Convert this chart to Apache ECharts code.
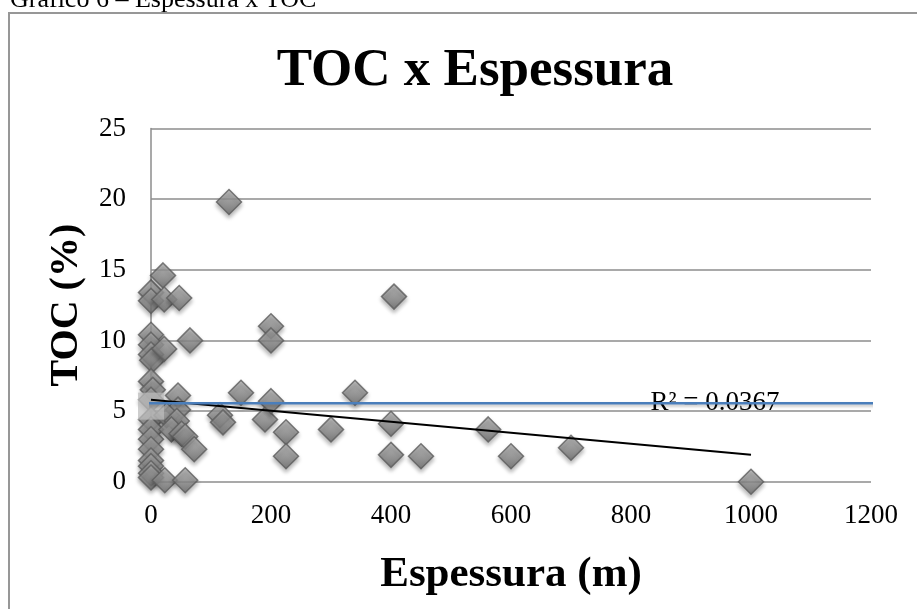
<!DOCTYPE html>
<html>
<head>
<meta charset="utf-8">
<title>TOC x Espessura</title>
<script src="https://cdn.jsdelivr.net/npm/echarts@6/dist/echarts.min.js"></script>
<style>
  html, body { margin: 0; padding: 0; background: #fff; }
  #chart { width: 917px; height: 609px; }
</style>
</head>
<body>
<div id="chart"></div>
<script>
// espessura (m) de cada amostra
var espessura = [
  0, 0, 0, 0, 0, 2, 0, 3, 0, 0, 0, 0, 0, 0, 0, 0, 0,
  20, 22, 47, 22, 65, 45, 45, 26, 43, 34, 51, 57, 72, 23, 57,
  130, 150, 115, 120, 190, 200, 200, 200, 225, 225, 300, 340,
  400, 400, 405, 450, 562, 600, 700, 1000
];
// TOC (%) de cada amostra
var toc = [
  13.4, 12.8, 10.4, 9.7, 9.0, 8.6, 7.1, 6.5, 5.8, 4.4, 3.7, 3.0, 2.3, 1.5, 1.1, 0.6, 0.3,
  14.6, 12.9, 13.0, 9.4, 10.0, 6.1, 5.1, 4.7, 4.3, 3.7, 3.4, 3.2, 2.3, 0.1, 0.1,
  19.8, 6.3, 4.7, 4.2, 4.4, 11.0, 10.0, 5.7, 3.5, 1.8, 3.7, 6.3,
  4.1, 1.9, 13.1, 1.8, 3.7, 1.8, 2.4, 0
];
// linha de tendencia
var trendX = [0, 1000];
var trendY = [5.8, 1.9];
var r2Text = 'R² = 0.0367';
var r2Pos = [940, 5.6];
// linha azul horizontal
var blueX = [-73, 1237];
var blueY = [5.56, 5.56];
// caixa cinza perto da origem
var boxPos = [0, 5.35];

var xTicks = { min: 0, max: 1200, interval: 200 };
var yTicks = { min: 0, max: 25, interval: 5 };

function pairs(xs, ys) {
  var out = [];
  for (var i = 0; i < xs.length; i++) {
    out.push([xs[i], ys[i]]);
  }
  return out;
}

var serif = 'Liberation Serif';
var chart = echarts.init(document.getElementById('chart'));
chart.setOption({
  animation: false,
  title: {
    text: 'TOC x Espessura',
    left: 470,
    top: 40,
    textAlign: 'center',
    textStyle: {
      fontFamily: serif,
      fontWeight: 'bold',
      fontSize: 53,
      lineHeight: 53,
      color: '#000'
    }
  },
  graphic: [
    {
      type: 'rect',
      shape: { x: 9, y: 13, width: 1000, height: 1000 },
      style: { fill: 'none', stroke: '#979797', lineWidth: 2 },
      silent: true
    },
    {
      type: 'text',
      x: 10,
      y: 0,
      style: {
        text: 'Gráfico 6 – Espessura x TOC',
        font: '26px "Liberation Serif"',
        fill: '#000',
        verticalAlign: 'middle'
      }
    }
  ],
  grid: {
    left: 151,
    right: 46,
    top: 128.5,
    bottom: 127.3
  },
  xAxis: {
    type: 'value',
    min: xTicks.min,
    max: xTicks.max,
    interval: xTicks.interval,
    name: 'Espessura (m)',
    nameLocation: 'middle',
    nameGap: 72,
    nameTextStyle: {
      fontFamily: serif,
      fontWeight: 'bold',
      fontSize: 43,
      lineHeight: 43,
      color: '#000'
    },
    axisLine: { show: false },
    axisTick: { show: false },
    splitLine: { show: false },
    axisLabel: {
      margin: 21,
      fontFamily: serif,
      fontSize: 27,
      lineHeight: 27,
      color: '#000',
      formatter: function (v) { return String(v); }
    }
  },
  yAxis: {
    type: 'value',
    min: yTicks.min,
    max: yTicks.max,
    interval: yTicks.interval,
    name: 'TOC (%)',
    nameLocation: 'middle',
    nameGap: 64,
    nameTextStyle: {
      fontFamily: serif,
      fontWeight: 'bold',
      fontSize: 40,
      lineHeight: 40,
      color: '#000'
    },
    axisLine: { show: true, lineStyle: { color: '#8c8c8c', width: 1.5 } },
    axisTick: { show: false },
    splitLine: { show: true, lineStyle: { color: '#8c8c8c', width: 1.5 } },
    axisLabel: {
      margin: 25,
      fontFamily: serif,
      fontSize: 27,
      color: '#000',
      formatter: function (v) { return String(v); }
    }
  },
  series: [
    {
      name: 'TOC',
      type: 'scatter',
      symbol: 'diamond',
      symbolSize: 25,
      clip: false,
      data: pairs(espessura, toc),
      itemStyle: {
        color: new echarts.graphic.LinearGradient(0, 0, 0, 1, [
          { offset: 0, color: '#b8b8b8' },
          { offset: 1, color: '#696969' }
        ]),
        borderColor: '#5c5c5c',
        borderWidth: 1.5,
        shadowBlur: 4,
        shadowOffsetY: 3,
        shadowColor: 'rgba(0,0,0,0.35)'
      },
      z: 2
    },
    {
      name: 'caixa',
      type: 'scatter',
      symbol: 'rect',
      symbolSize: [26, 27],
      clip: false,
      data: [boxPos],
      itemStyle: { color: 'rgba(188,188,188,0.92)' },
      z: 3
    },
    {
      name: 'tendencia',
      type: 'line',
      symbol: 'none',
      clip: false,
      data: pairs(trendX, trendY),
      lineStyle: { color: '#000', width: 2 },
      markPoint: {
        symbol: 'circle',
        symbolSize: 0,
        data: [{ coord: r2Pos }],
        label: {
          show: true,
          position: 'inside',
          formatter: r2Text,
          fontFamily: serif,
          fontSize: 27,
          color: '#000'
        }
      },
      z: 4
    },
    {
      name: 'azul',
      type: 'line',
      symbol: 'none',
      clip: false,
      data: pairs(blueX, blueY),
      lineStyle: {
        color: '#4a7ebb',
        width: 2.5,
        shadowBlur: 3,
        shadowOffsetY: 2,
        shadowColor: 'rgba(0,0,0,0.25)'
      },
      z: 5
    }
  ]
});
</script>
</body>
</html>
